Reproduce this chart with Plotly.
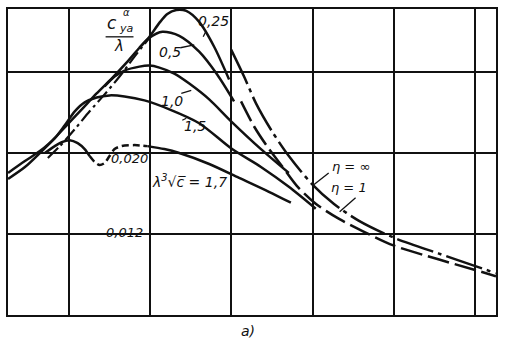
import plotly.graph_objects as go

# x in grid units (vertical grid lines at 1..6), y in c_ya^alpha/lambda units
x_main = [0.253, 0.461, 0.645, 0.828, 0.988, 1.172, 1.343, 1.527, 1.711, 1.870, 1.993, 2.115, 2.213, 2.324, 2.446, 2.605, 2.789, 2.973]
y_main = [0.01742, 0.01859, 0.01997, 0.02144, 0.02281, 0.02438, 0.02585, 0.02731, 0.02888, 0.03035, 0.03143, 0.03280, 0.03368, 0.03407, 0.03398, 0.03290, 0.03045, 0.02722]

x_05 = [1.870, 1.993, 2.152, 2.360, 2.605, 2.826, 3.034]
y_05 = [0.03035, 0.03133, 0.03192, 0.03153, 0.02996, 0.02771, 0.02506]

x_10 = [1.441, 1.564, 1.686, 1.870, 1.993, 2.115, 2.299, 2.483, 2.728, 2.998, 3.365, 3.708]
y_10 = [0.02653, 0.02751, 0.02810, 0.02849, 0.02859, 0.02839, 0.02780, 0.02682, 0.02526, 0.02310, 0.02036, 0.01801]

x_15 = [0.253, 0.461, 0.645, 0.828, 0.951, 1.074, 1.196, 1.343, 1.502, 1.686, 1.931, 2.238, 2.605, 3.010, 3.365, 3.708, 4.039]
y_15 = [0.01801, 0.01918, 0.02016, 0.02144, 0.02271, 0.02408, 0.02496, 0.02545, 0.02565, 0.02555, 0.02516, 0.02428, 0.02291, 0.02036, 0.01860, 0.01664, 0.01448]

x_17a = [0.706, 0.828, 0.914, 1.012, 1.110, 1.196, 1.257]
y_17a = [0.01997, 0.02065, 0.02105, 0.02124, 0.02095, 0.02036, 0.01967]
x_17b = [1.257, 1.319, 1.380, 1.441, 1.502, 1.564, 1.650, 1.809, 1.968]
y_17b = [0.01967, 0.01909, 0.01879, 0.01899, 0.01967, 0.02036, 0.02065, 0.02075, 0.02065]
x_17c = [1.968, 2.176, 2.360, 2.728, 3.096, 3.463, 3.733]
y_17c = [0.02065, 0.02036, 0.01997, 0.01889, 0.01752, 0.01615, 0.01507]

x_rise = [0.743, 0.890, 1.074, 1.257, 1.441, 1.625, 1.809, 1.993]
y_rise = [0.01948, 0.02065, 0.02232, 0.02408, 0.02575, 0.02751, 0.02947, 0.03133]

x_inf = [2.998, 3.157, 3.304, 3.500, 3.708, 3.990, 4.260, 4.566, 4.995, 5.547, 6.012, 6.257]
y_inf = [0.03016, 0.02751, 0.02487, 0.02212, 0.01967, 0.01693, 0.01497, 0.01331, 0.01164, 0.01007, 0.00880, 0.00811]

x_one = [3.120, 3.279, 3.439, 3.623, 3.806, 4.039, 4.321, 4.627, 4.995, 5.547, 6.012, 6.257]
y_one = [0.02506, 0.02261, 0.02065, 0.01869, 0.01673, 0.01497, 0.01350, 0.01223, 0.01086, 0.00949, 0.00841, 0.00782]

grid_x = [1, 2, 3, 4, 5, 6]
grid_y = [0.004, 0.012, 0.020, 0.028]

X0, X1 = 0.2525, 6.257
Y0, Y1 = 0.004, 0.03417
L, R, T, B = 8, 498, 7, 315


def dx(px):
    return X0 + (px - L) / (R - L) * (X1 - X0)


def dy(py):
    return Y0 + (B - py) / (B - T) * (Y1 - Y0)


fig = go.Figure()
LW = 2.5
C = "#111"


def add(x, y, dash="solid", w=LW):
    fig.add_trace(go.Scatter(x=x, y=y, mode="lines",
                             line=dict(color=C, width=w, dash=dash, shape="spline", smoothing=0.8),
                             hoverinfo="skip"))


add(x_main, y_main)
add(x_05, y_05)
add(x_10, y_10)
add(x_15, y_15)
add(x_17a, y_17a)
add(x_17b, y_17b, dash="7px,4px")
add(x_17c, y_17c)
add(x_rise, y_rise, dash="14px,4px,3px,4px", w=2.2)
add(x_inf, y_inf, dash="38px,5px,4px,5px")
add(x_one, y_one, dash="22px,6px")

FAM = "DejaVu Sans"


def lab(text, px, py, size=14):
    fig.add_annotation(text=f"<i>{text}</i>", x=dx(px), y=dy(py), xref="x", yref="y",
                       font=dict(family=FAM, size=size, color=C), showarrow=False)


def leader(p0, p1):
    fig.add_shape(type="line", x0=dx(p0[0]), y0=dy(p0[1]), x1=dx(p1[0]), y1=dy(p1[1]),
                  xref="x", yref="y", line=dict(color=C, width=1.3))


lab("0,25", 214, 19)
leader((207, 29), (204, 35))
lab("0,5", 171, 50)
leader((181, 46), (195, 43))
lab("1,0", 173, 100)
leader((182, 92), (192, 89))
lab("1,5", 196, 125)
leader((187, 117), (183, 119))
lab("0,020", 130, 157, size=13)
lab("λ<sup>3</sup>√c̅ = 1,7", 190, 180)
lab("0,012", 125, 232, size=13)
lab("η = ∞", 352, 166, size=13)
lab("η = 1", 350, 187, size=13)
leader((330, 172), (315, 184))
leader((357, 197), (341, 211))

# y-axis quantity written as a fraction inside the plot
lab("c", 112, 21, size=17)
lab("α", 127, 11, size=10)
lab("ya", 127, 27, size=11)
leader((106, 35), (134, 35))
lab("λ", 119, 44, size=15)

fig.add_annotation(text="<i>a)</i>", x=(249 - L) / (R - L), y=(B - 331) / (B - T),
                   xref="paper", yref="paper", showarrow=False, yanchor="middle", xanchor="center",
                   font=dict(family=FAM, size=14, color=C))

axis_common = dict(showgrid=True, gridcolor=C, gridwidth=1.5, showticklabels=False, ticks="",
                   zeroline=False, showline=True, linecolor=C, linewidth=2, mirror=True)
fig.update_xaxes(range=[X0, X1], tickvals=grid_x, **axis_common)
fig.update_yaxes(range=[Y0, Y1], tickvals=grid_y, **axis_common)

fig.update_layout(width=505, height=343, margin=dict(l=L, r=505 - R, t=T, b=343 - B),
                  plot_bgcolor="white", paper_bgcolor="white", showlegend=False)
fig.write_html("out.html")
